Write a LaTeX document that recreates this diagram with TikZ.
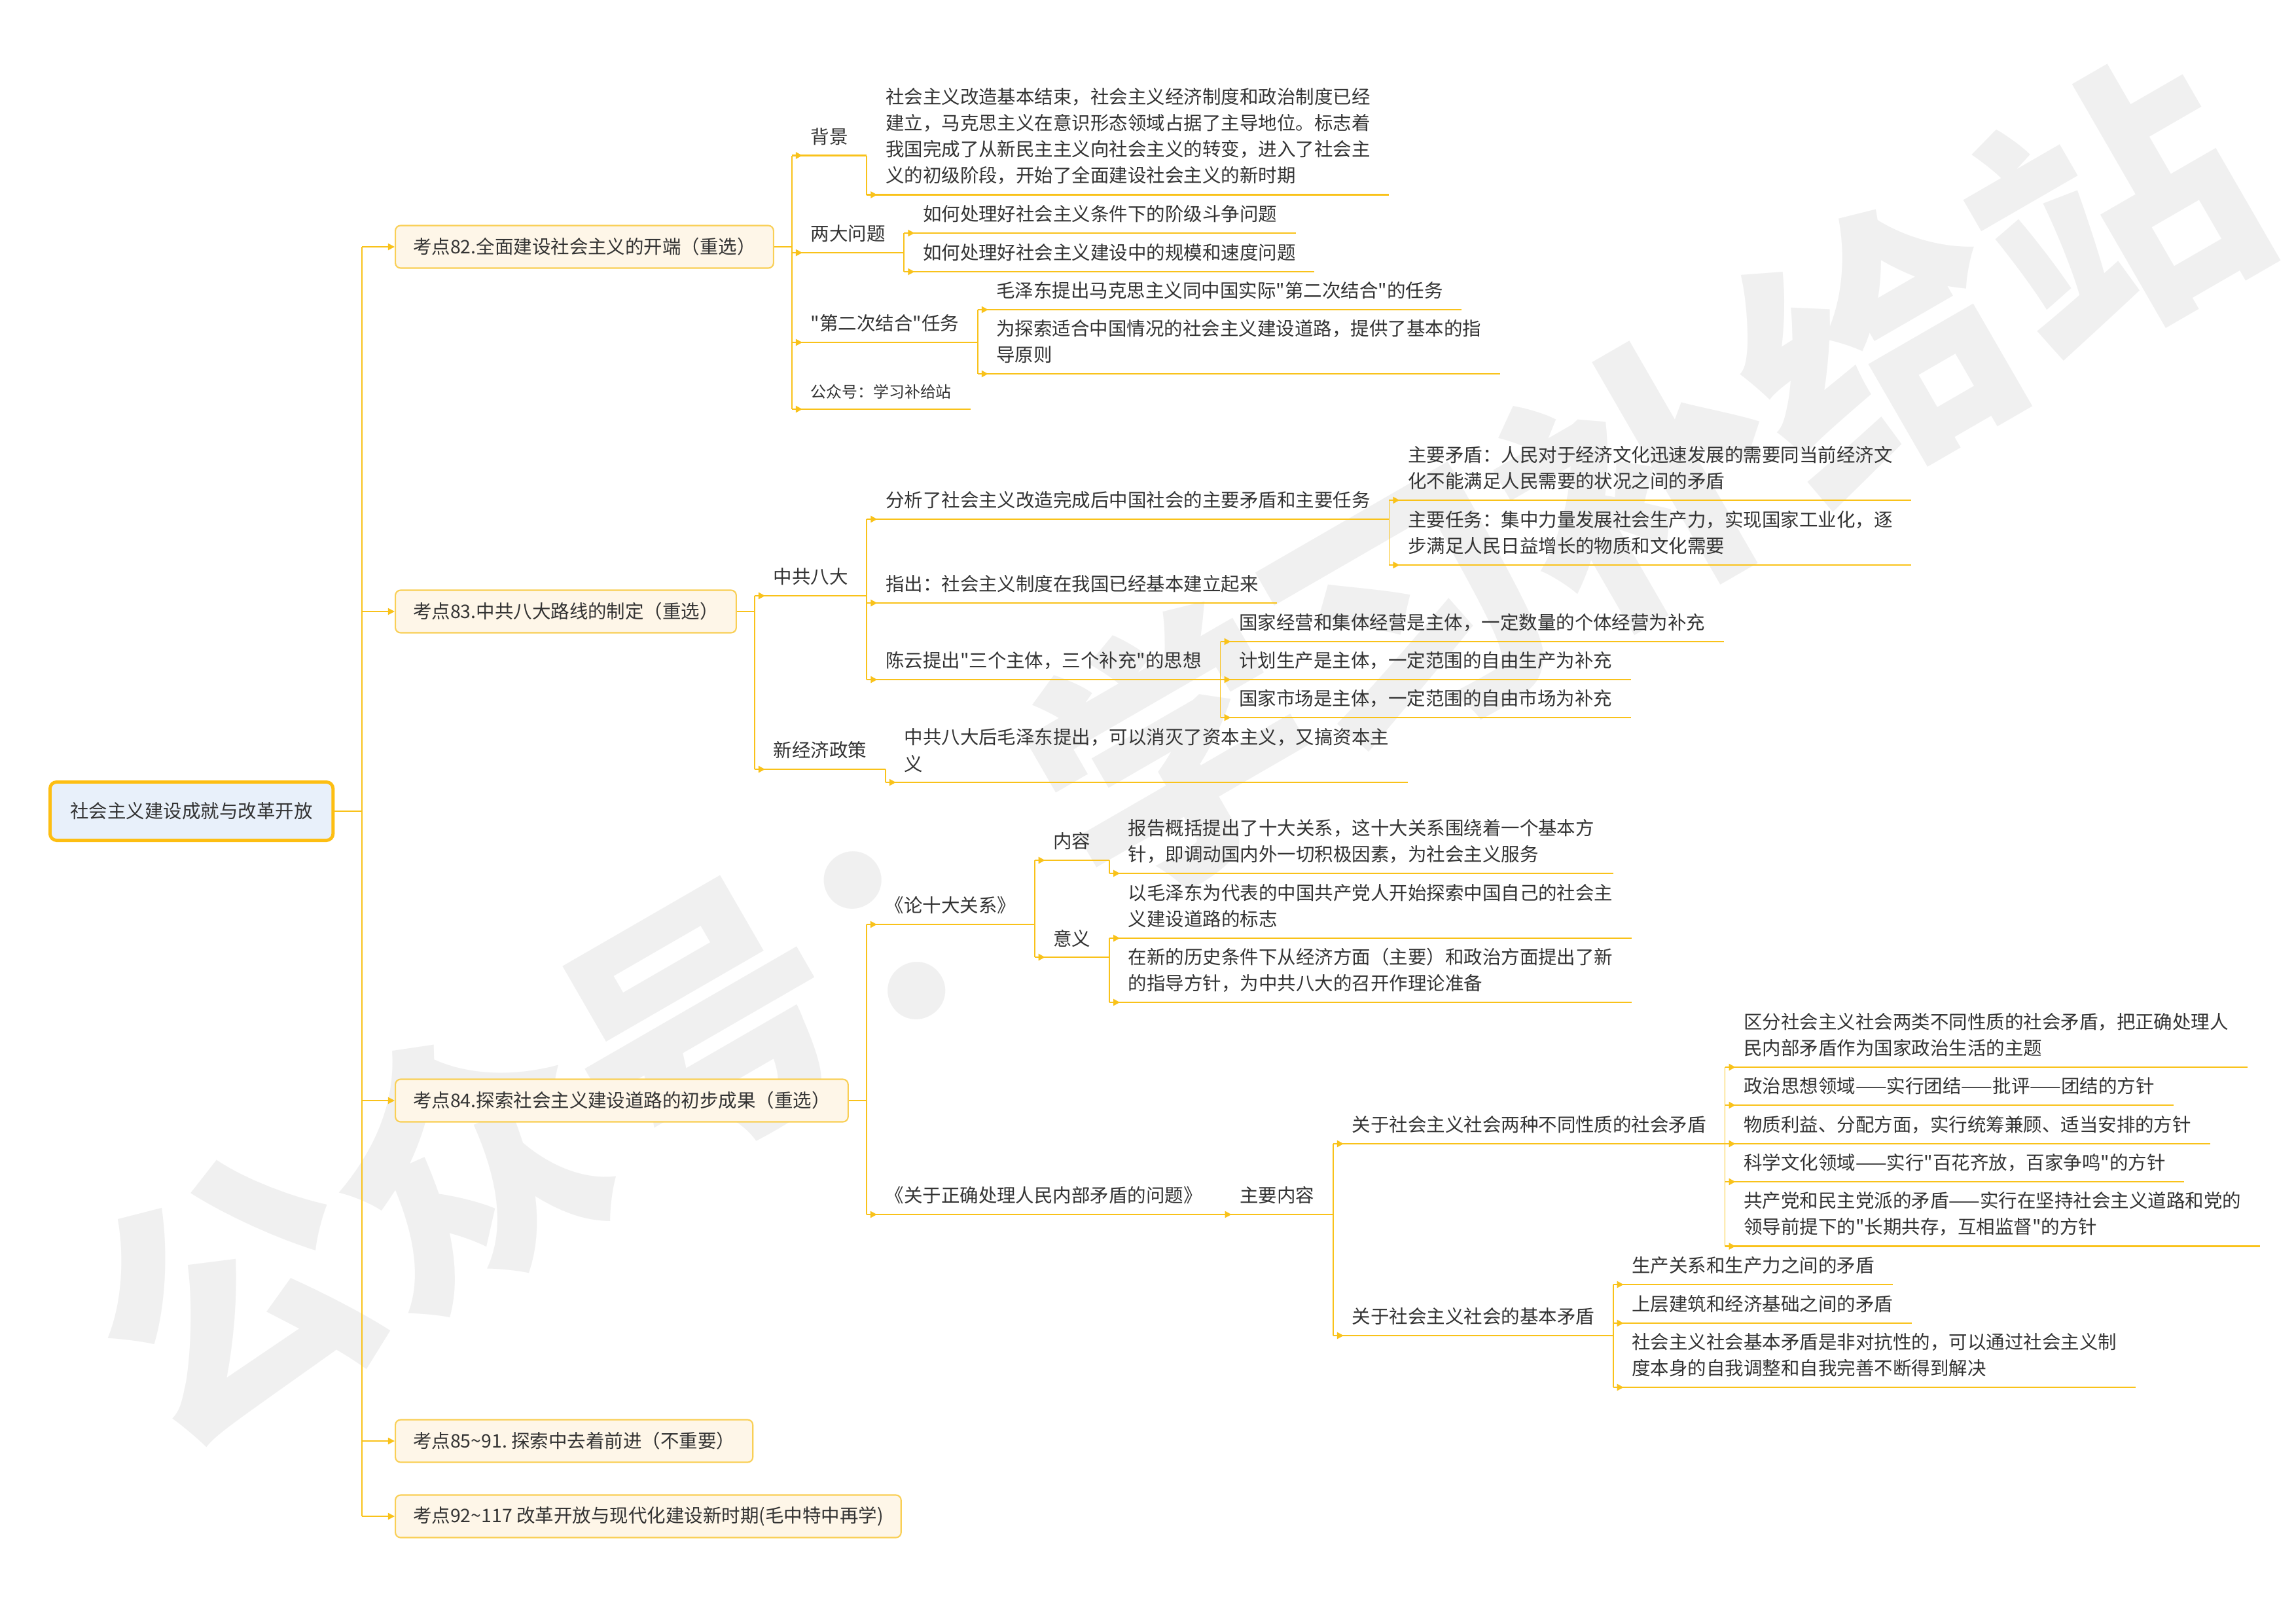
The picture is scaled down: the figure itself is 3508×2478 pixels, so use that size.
\documentclass[tikz,border=0pt]{standalone}
\usepackage{fontspec}
\setmainfont{Noto Sans CJK SC}
\newfontfamily\cnfont{Noto Sans CJK SC}
\newfontfamily\wmfont{Noto Sans CJK SC}
\usetikzlibrary{arrows.meta,decorations.markings}

\definecolor{gold}{HTML}{F9C21A}
\definecolor{rootline}{HTML}{FDBE12}
\definecolor{rootfill}{HTML}{E8F0FA}
\definecolor{boxline}{HTML}{F9CF55}
\definecolor{boxfill}{HTML}{FEF6E8}
\definecolor{ink}{HTML}{333333}
\definecolor{wmgray}{HTML}{F0F0F0}
\frenchspacing

\begin{document}
\begin{tikzpicture}[x=0.01cm, y=-0.01cm,
		every node/.style={font=\cnfont\fontsize{8.1}{11.4}\selectfont, text=ink},
		rootbox/.style={draw=rootline, line width=1.4pt, fill=rootfill, rounded corners=0.1cm, minimum height=0.89cm, inner xsep=0.31cm, anchor=west},
		topic/.style={draw=boxline, line width=0.6pt, fill=boxfill, rounded corners=0.08cm, minimum height=0.65cm, inner xsep=0.27cm, anchor=west},
		leaf/.style={anchor=south west, inner xsep=0.28cm, inner ysep=0.15cm, align=left},
		trunk/.style={draw=gold, line width=0.5pt},
		link/.style={draw=gold, line width=0.65pt, postaction={decorate},
			decoration={markings, mark=at position 0.16cm with {\arrow{Triangle[length=0.1cm,width=0.1cm]}}}}
		]
	\fill[white] (0,0) rectangle (3508,2478);
	\useasboundingbox (0,0) rectangle (3508,2478);
	% watermark
	\node[rotate=30, text=wmgray, font=\wmfont\bfseries\fontsize{118}{118}\selectfont] (wm) at (1790,1150) {公众号：学习补给站};

	% root and topics
	\node[rootbox] (root) at (74,1239) {社会主义建设成就与改革开放};
	\draw[trunk] (root.east) -- ++(0.42cm,0) coordinate (t0);
	\foreach \n/\y/\t in {k82/377/{考点82.全面建设社会主义的开端（重选）},
			k83/934/{考点83.中共八大路线的制定（重选）},
			k84/1681/{考点84.探索社会主义建设道路的初步成果（重选）},
			k85/2201/{考点85\textasciitilde91. 探索中去着前进（不重要）},
			k92/2316/{考点92\textasciitilde117 改革开放与现代化建设新时期(毛中特中再学)}}
		\node[topic] (\n) at (603,\y) {\t};
	\draw[trunk] (t0 |- k82.west) -- (t0 |- k92.west);
	\foreach \n in {k82,k83,k84,k85,k92}
		\draw[trunk, -{Triangle[length=0.1cm,width=0.1cm]}] (t0 |- \n.west) -- (\n.west);

	% 考点82
	\draw[trunk] (k82.east) -- ++(0.27cm,0) coordinate (t82);
	\node[leaf] (bg) at (t82 |- 0,237.5) {背景};
	\node[leaf] (two) at (t82 |- 0,386) {两大问题};
	\node[leaf] (sec) at (t82 |- 0,523) {"第二次结合"任务};
	\node[leaf, font=\cnfont\fontsize{6.8}{9}\selectfont] (pub) at (t82 |- 0,625) {公众号：学习补给站};
	\node[leaf] (bg1) at (bg.south east |- 0,297.5) {社会主义改造基本结束，社会主义经济制度和政治制度已经\\建立，马克思主义在意识形态领域占据了主导地位。标志着\\我国完成了从新民主主义向社会主义的转变，进入了社会主\\义的初级阶段，开始了全面建设社会主义的新时期};
	\node[leaf] (two1) at (two.south east |- 0,356) {如何处理好社会主义条件下的阶级斗争问题};
	\node[leaf] (two2) at (two.south east |- 0,415) {如何处理好社会主义建设中的规模和速度问题};
	\node[leaf] (sec1) at (sec.south east |- 0,473) {毛泽东提出马克思主义同中国实际"第二次结合"的任务};
	\node[leaf] (sec2) at (sec.south east |- 0,571) {为探索适合中国情况的社会主义建设道路，提供了基本的指\\导原则};

	% 考点83
	\draw[trunk] (k83.east) -- ++(0.27cm,0) coordinate (t83);
	\node[leaf] (zg8) at (t83 |- 0,910) {中共八大};
	\node[leaf] (xj) at (t83 |- 0,1175) {新经济政策};
	\node[leaf] (fx) at (zg8.south east |- 0,793) {分析了社会主义改造完成后中国社会的主要矛盾和主要任务};
	\node[leaf] (zc) at (zg8.south east |- 0,921) {指出：社会主义制度在我国已经基本建立起来};
	\node[leaf] (cy) at (zg8.south east |- 0,1038) {陈云提出"三个主体，三个补充"的思想};
	\node[leaf] (zm) at (fx.south east |- 0,764) {主要矛盾：人民对于经济文化迅速发展的需要同当前经济文\\化不能满足人民需要的状况之间的矛盾};
	\node[leaf] (zr) at (fx.south east |- 0,863) {主要任务：集中力量发展社会生产力，实现国家工业化，逐\\步满足人民日益增长的物质和文化需要};
	\node[leaf] (g1) at (cy.south east |- 0,980) {国家经营和集体经营是主体，一定数量的个体经营为补充};
	\node[leaf] (g2) at (cy.south east |- 0,1038) {计划生产是主体，一定范围的自由生产为补充};
	\node[leaf] (g3) at (cy.south east |- 0,1096) {国家市场是主体，一定范围的自由市场为补充};
	\node[leaf] (xj1) at (xj.south east |- 0,1195) {中共八大后毛泽东提出，可以消灭了资本主义，又搞资本主\\义};

	% 考点84
	\draw[trunk] (k84.east) -- ++(0.27cm,0) coordinate (t84);
	\node[leaf] (lsd) at (t84 |- 0,1412) {《论十大关系》};
	\node[leaf] (gy) at (t84 |- 0,1855) {《关于正确处理人民内部矛盾的问题》};
	\node[leaf] (nr) at (lsd.south east |- 0,1314) {内容};
	\node[leaf] (yy) at (lsd.south east |- 0,1462) {意义};
	\node[leaf] (nr1) at (nr.south east |- 0,1334) {报告概括提出了十大关系，这十大关系围绕着一个基本方\\针，即调动国内外一切积极因素，为社会主义服务};
	\node[leaf] (yy1) at (yy.south east |- 0,1433) {以毛泽东为代表的中国共产党人开始探索中国自己的社会主\\义建设道路的标志};
	\node[leaf] (yy2) at (yy.south east |- 0,1531) {在新的历史条件下从经济方面（主要）和政治方面提出了新\\的指导方针，为中共八大的召开作理论准备};
	\node[leaf] (zy) at (gy.south east |- 0,1855) {主要内容};
	\node[leaf] (lz) at (zy.south east |- 0,1747) {关于社会主义社会两种不同性质的社会矛盾};
	\node[leaf] (jb) at (zy.south east |- 0,2040) {关于社会主义社会的基本矛盾};
	\node[leaf] (a1) at (lz.south east |- 0,1630) {区分社会主义社会两类不同性质的社会矛盾，把正确处理人\\民内部矛盾作为国家政治生活的主题};
	\node[leaf] (a2) at (lz.south east |- 0,1688) {政治思想领域——实行团结——批评——团结的方针};
	\node[leaf] (a3) at (lz.south east |- 0,1747) {物质利益、分配方面，实行统筹兼顾、适当安排的方针};
	\node[leaf] (a4) at (lz.south east |- 0,1805) {科学文化领域——实行"百花齐放，百家争鸣"的方针};
	\node[leaf] (a5) at (lz.south east |- 0,1903.5) {共产党和民主党派的矛盾——实行在坚持社会主义道路和党的\\领导前提下的"长期共存，互相监督"的方针};
	\node[leaf] (b1) at (jb.south east |- 0,1962) {生产关系和生产力之间的矛盾};
	\node[leaf] (b2) at (jb.south east |- 0,2021) {上层建筑和经济基础之间的矛盾};
	\node[leaf] (b3) at (jb.south east |- 0,2119) {社会主义社会基本矛盾是非对抗性的，可以通过社会主义制\\度本身的自我调整和自我完善不断得到解决};

	% connectors from the topic boxes
	\foreach \t/\c in {t82/bg, t82/two, t82/sec, t82/pub, t83/zg8, t83/xj, t84/lsd, t84/gy} {
		\draw[trunk] (\t) -- (\t |- \c.south);
		\draw[link] (\t |- \c.south) -- (\c.south east);
	}
	% connectors between text nodes
	\foreach \p/\c in {bg/bg1, two/two1, two/two2, sec/sec1, sec/sec2,
			zg8/fx, zg8/zc, zg8/cy, fx/zm, fx/zr, cy/g1, cy/g2, cy/g3, xj/xj1,
			lsd/nr, lsd/yy, nr/nr1, yy/yy1, yy/yy2, gy/zy, zy/lz, zy/jb,
			lz/a1, lz/a2, lz/a3, lz/a4, lz/a5, jb/b1, jb/b2, jb/b3} {
		\draw[trunk] (\p.south east) -- (\p.south east |- \c.south);
		\draw[link] (\p.south east |- \c.south) -- (\c.south east);
	}
\end{tikzpicture}
\end{document}
